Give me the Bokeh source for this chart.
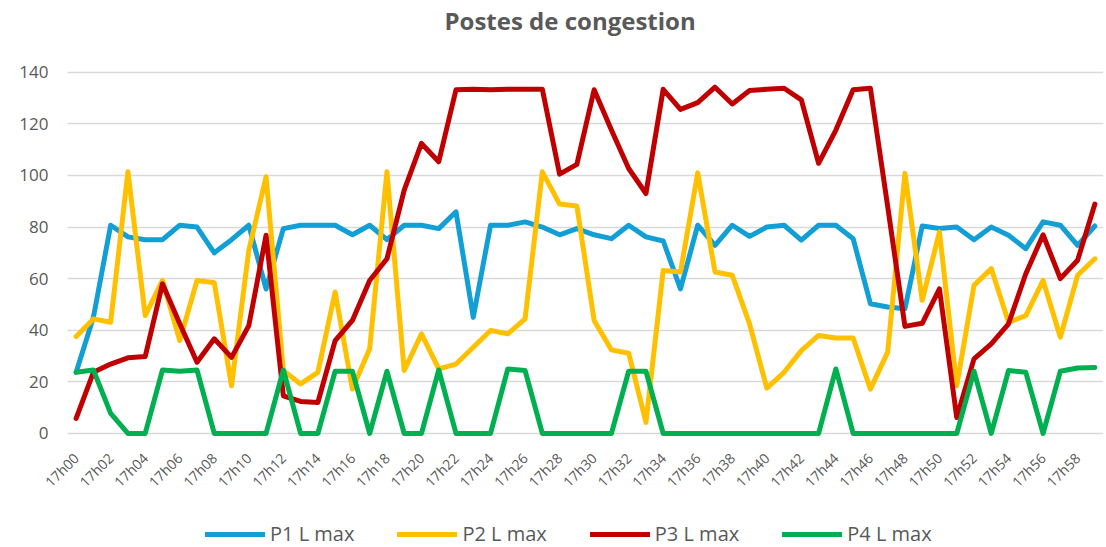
import math
from bokeh.plotting import figure
from bokeh.models import Range1d, FixedTicker, Legend, LegendItem, ColumnDataSource, Title
from bokeh.embed import file_html
from bokeh.resources import INLINE

minutes = ["17h00", "17h01", "17h02", "17h03", "17h04", "17h05", "17h06", "17h07", "17h08", "17h09",
           "17h10", "17h11", "17h12", "17h13", "17h14", "17h15", "17h16", "17h17", "17h18", "17h19",
           "17h20", "17h21", "17h22", "17h23", "17h24", "17h25", "17h26", "17h27", "17h28", "17h29",
           "17h30", "17h31", "17h32", "17h33", "17h34", "17h35", "17h36", "17h37", "17h38", "17h39",
           "17h40", "17h41", "17h42", "17h43", "17h44", "17h45", "17h46", "17h47", "17h48", "17h49",
           "17h50", "17h51", "17h52", "17h53", "17h54", "17h55", "17h56", "17h57", "17h58", "17h59"]

p1_lmax = [23.7, 45, 80.7, 76.2, 75.1, 75.1, 80.7, 80, 70, 75.1,
           80.7, 56, 79.4, 80.7, 80.7, 80.7, 77, 80.7, 75.1, 80.7,
           80.7, 79.4, 85.9, 45, 80.7, 80.7, 82, 80, 77, 79.4,
           77, 75.5, 80.7, 76.2, 74.6, 56, 80.7, 72.9, 80.7, 76.4,
           80, 80.7, 74.9, 80.7, 80.7, 75.5, 50.3, 49, 48.3, 80.4,
           79.4, 80, 75.1, 80, 76.8, 71.6, 82, 80.7, 72.9, 80.4]

p2_lmax = [37.6, 44.4, 43.1, 101.4, 45.7, 59.3, 36, 59.3, 58.4, 18.5,
           71, 99.5, 24.4, 19.2, 23.7, 54.8, 17.2, 32.8, 101.4, 24.4,
           38.6, 25, 26.9, 33.4, 39.9, 38.6, 44.4, 101.4, 88.9, 88.2,
           43.8, 32.4, 31.1, 4.3, 63.2, 62.6, 101, 62.6, 61.3, 42.5,
           17.6, 23.7, 32.1, 38, 37, 37, 17.2, 31.5, 100.8, 51.6,
           78.1, 18.5, 57.4, 63.9, 43.1, 45.7, 59.3, 37.3, 61.3, 67.7]

p3_lmax = [5.8, 23.7, 26.9, 29.3, 29.8, 58, 42.5, 27.6, 36.7, 29.5,
           41.8, 76.8, 14.6, 12.4, 12, 36, 43.8, 59.3, 67.7, 94.3,
           112.4, 105.3, 133.2, 133.4, 133.2, 133.4, 133.4, 133.4, 100.5, 104.3,
           133.2, 117.6, 102.7, 93, 133.4, 125.6, 128.2, 134.2, 127.7, 132.9,
           133.4, 133.8, 129.3, 104.7, 117.6, 133.2, 133.8, 88, 41.5, 42.7,
           56, 6.2, 28.9, 34.7, 42.5, 61.9, 77, 60, 67.1, 88.9]

p4_lmax = [23.7, 24.6, 7.8, 0, 0, 24.6, 24.1, 24.6, 0, 0,
           0, 0, 24.6, 0, 0, 24.1, 24.1, 0, 24.1, 0,
           0, 24.6, 0, 0, 0, 25, 24.4, 0, 0, 0,
           0, 0, 24.1, 24.1, 0, 0, 0, 0, 0, 0,
           0, 0, 0, 0, 25, 0, 0, 0, 0, 0,
           0, 0, 24.1, 0, 24.4, 23.7, 0, 24.1, 25.4, 25.6]

series_names = ["P1 L max", "P2 L max", "P3 L max", "P4 L max"]
series_colors = ["#129FD6", "#FFC000", "#C00000", "#00B050"]
y_ticks = [0, 20, 40, 60, 80, 100, 120, 140]

idx = list(range(len(minutes)))
source = ColumnDataSource(dict(x=idx, p1=p1_lmax, p2=p2_lmax, p3=p3_lmax, p4=p4_lmax))

# frame spans from the top border down to the page bottom; the lower part holds the legend
p = figure(frame_width=1062, frame_height=483, output_backend="svg", toolbar_location=None,
           x_range=Range1d(-2.006, len(minutes) - 0.5), y_range=Range1d(-44.2, 143),
           min_border_left=41, min_border_right=3, min_border_top=64, min_border_bottom=0)
p.outline_line_color = None
p.background_fill_color = "white"
p.border_fill_color = "white"

# Title
p.title.text = "Postes de congestion"
p.title.text_font = "Open Sans"
p.title.text_font_size = "24px"
p.title.text_font_style = "bold"
p.title.text_color = "#595959"
p.title.align = "left"
p.title.offset = 403
p.title.standoff = 0

# spacer between title and frame
p.add_layout(Title(text=" ", text_font="Open Sans", text_font_size="19px", standoff=0), "above")

# Axes
p.xaxis.fixed_location = 0
p.xaxis.ticker = FixedTicker(ticks=idx[::2])
p.xaxis.major_label_overrides = {i: minutes[i] for i in idx}
p.xaxis.major_label_orientation = math.pi / 4
p.xaxis.major_label_text_font = "Open Sans"
p.xaxis.major_label_text_font_size = "14px"
p.xaxis.major_label_text_color = "#595959"
p.xaxis.major_label_standoff = 16
p.xaxis.axis_line_color = None
p.xaxis.major_tick_line_color = None
p.xaxis.minor_tick_line_color = None

p.yaxis.ticker = FixedTicker(ticks=y_ticks)
p.yaxis.major_label_text_font = "Open Sans"
p.yaxis.major_label_text_font_size = "17px"
p.yaxis.major_label_text_color = "#595959"
p.yaxis.major_label_standoff = -7
p.yaxis.axis_line_color = None
p.yaxis.major_tick_line_color = None
p.yaxis.minor_tick_line_color = None
p.yaxis.major_tick_out = 0

p.xgrid.grid_line_color = None
p.ygrid.ticker = FixedTicker(ticks=y_ticks)
p.ygrid.grid_line_color = "#D9D9D9"
p.ygrid.grid_line_width = 1.5
try:
    p.ygrid.cross_bounds = (-0.5, len(minutes) - 0.5)
except Exception:
    pass

renderers = []
for col, name, color in zip(["p1", "p2", "p3", "p4"], series_names, series_colors):
    r = p.line("x", col, source=source, line_width=5, line_color=color,
               line_join="round", line_cap="round")
    renderers.append(r)

legend = Legend(items=[LegendItem(label=n, renderers=[r]) for n, r in zip(series_names, renderers)],
                orientation="horizontal", location=(164, 0))
legend.label_text_font = "Open Sans"
legend.label_text_font_size = "20px"
legend.label_text_color = "#595959"
legend.glyph_width = 60
legend.glyph_height = 20
legend.label_standoff = 5
legend.spacing = 43
legend.padding = 0
legend.margin = 0
legend.border_line_color = None
legend.background_fill_alpha = 0
p.add_layout(legend)

open("out.html", "w").write(file_html(p, INLINE))
